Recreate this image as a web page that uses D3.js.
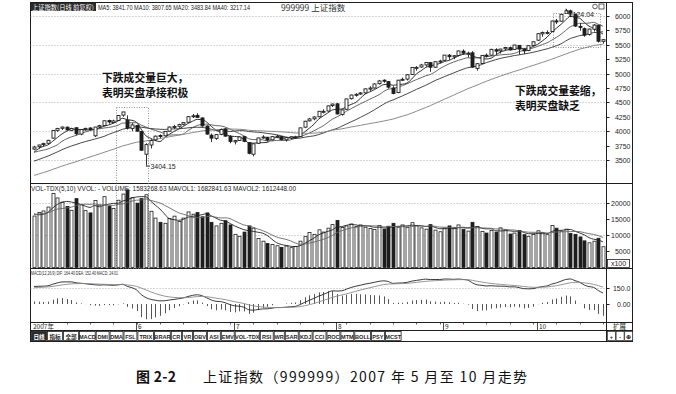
<!DOCTYPE html>
<html><head><meta charset="utf-8">
<script src="https://cdn.jsdelivr.net/npm/d3@7"></script>
<style>body{margin:0;background:#fff}svg{display:block}</style>
</head><body>
<svg id="c" width="676" height="394"></svg>
<script>
// ---------- DATA ----------
const dates = ["04-25","04-26","04-27","04-30",
"05-08","05-09","05-10","05-11","05-14","05-15","05-16","05-17","05-18","05-21","05-22","05-23","05-24","05-25","05-28","05-29","05-30","05-31",
"06-01","06-04","06-05","06-06","06-07","06-08","06-11","06-12","06-13","06-14","06-15","06-18","06-19","06-20","06-21","06-22","06-25","06-26","06-27","06-28","06-29",
"07-02","07-03","07-04","07-05","07-06","07-09","07-10","07-11","07-12","07-13","07-16","07-17","07-18","07-19","07-20","07-23","07-24","07-25","07-26","07-27","07-30","07-31",
"08-01","08-02","08-03","08-06","08-07","08-08","08-09","08-10","08-13","08-14","08-15","08-16","08-17","08-20","08-21","08-22","08-23","08-24","08-27","08-28","08-29","08-30","08-31",
"09-03","09-04","09-05","09-06","09-07","09-10","09-11","09-12","09-13","09-14","09-17","09-18","09-19","09-20","09-21","09-24","09-25","09-26","09-27","09-28",
"10-08","10-09","10-10","10-11","10-12","10-15","10-16","10-17","10-18","10-19","10-22","10-23","10-24","10-25","10-26"];
const opens = [3690,3730,3770,3790,3880,4015,4050,4070,4015,4060,3950,4035,4055,3920,4075,4100,4185,4150,4185,4280,4190,4045,
4100,3995,3600,3760,3850,3925,3920,4000,4075,4085,4120,4155,4255,4275,4230,4090,3930,3875,3945,4040,3910,
3815,3840,3905,3800,3600,3790,3885,3895,3850,3905,3905,3850,3880,3895,3905,4070,4180,4215,4250,4330,4350,4445,
4475,4290,4380,4565,4625,4645,4665,4730,4750,4825,4885,4860,4750,4670,4890,4905,4985,5105,5115,5150,5190,5110,5205,
5230,5320,5290,5315,5390,5340,5360,5090,5175,5320,5320,5415,5395,5430,5450,5420,5490,5420,5400,5490,
5580,5690,5710,5730,5915,5910,6045,6090,6030,5820,5780,5680,5770,5840,5560];
const highs = [3745,3765,3800,3850,4015,4055,4080,4080,4060,4065,4035,4060,4070,4075,4110,4185,4200,4200,4275,4336,4275,4140,
4110,4000,3790,3860,3925,3945,4005,4080,4110,4130,4160,4260,4300,4312,4240,4100,3960,3950,4045,4050,3930,
3850,3910,3920,3805,3785,3890,3930,3900,3915,3935,3915,3895,3910,3920,4060,4180,4230,4260,4350,4380,4445,4480,
4490,4380,4565,4635,4660,4680,4740,4780,4830,4890,4900,4870,4780,4890,4930,4990,5110,5130,5170,5200,5200,5210,5240,
5325,5340,5320,5400,5420,5380,5390,5180,5320,5350,5430,5440,5430,5460,5470,5500,5495,5430,5490,5560,
5700,5730,5750,5920,5950,6040,6124.04,6110,6040,5880,5800,5780,5860,5845,5600];
const lows = [3670,3700,3730,3780,3870,3990,4020,4010,4000,3930,3930,4010,4010,3900,4050,4100,4130,4140,4180,4250,4029,4000,
3990,3660,3404.15,3700,3830,3880,3910,3990,4040,4060,4100,4150,4230,4230,4080,3940,3810,3850,3930,3905,3790,
3770,3830,3810,3600,3563,3780,3870,3820,3840,3890,3840,3820,3860,3870,3900,4060,4170,4190,4240,4310,4340,4420,
4290,4270,4375,4550,4600,4630,4650,4700,4740,4810,4840,4740,4640,4660,4870,4880,4975,5050,5100,5120,5030,5100,5180,
5220,5240,5250,5300,5330,5280,5100,5050,5170,5280,5310,5340,5350,5410,5400,5410,5330,5340,5390,5480,
5570,5640,5680,5720,5860,5900,6040,5980,5810,5745,5640,5660,5730,5540,5520];
const closes = [3725,3760,3785,3841,4013,4049,4072,4022,4046,3955,4031,4049,4030,4072,4097,4181,4160,4178,4272,4334,4053,4109,
4001,3670,3767,3837,3914,3913,3995,4072,4082,4115,4149,4253,4268,4240,4091,3950,3880,3941,4030,3914,3821,
3836,3900,3824,3616,3781,3883,3899,3847,3906,3914,3851,3887,3903,3904,4058,4173,4213,4247,4346,4345,4440,4471,
4300,4370,4560,4628,4640,4664,4735,4749,4820,4872,4869,4765,4656,4886,4901,4980,5107,5108,5150,5194,5111,5206,5218,
5321,5294,5311,5393,5355,5356,5114,5172,5316,5312,5421,5390,5426,5454,5411,5496,5425,5394,5485,5552,
5693,5715,5715,5913,5903,6030,6092,6036,5825,5818,5667,5773,5843,5562,5589];
const volumes = [15833,16900,17400,18600,22800,21400,20100,18800,17600,21200,19300,17500,16800,20600,19200,21800,18900,18200,20700,22600,23900,21500,
19800,21200,22400,17300,15200,13900,13600,15100,15800,14200,15200,17100,16400,16900,15600,16800,13900,12800,13600,14400,13100,
10200,9600,10900,12800,12100,8900,8100,7400,7100,6700,6200,6600,6100,6500,8100,9500,10800,10200,11600,10900,12100,13200,
14500,12300,12800,13400,12600,13100,12400,12000,11700,12900,11800,12700,13600,12400,13100,12300,13800,12900,12200,11800,13200,11500,11000,
12100,12800,12200,13100,11700,11200,13900,12600,11100,10600,11400,10900,12200,11600,10300,10600,11400,10100,9600,10200,
11300,10800,10100,12900,12100,11200,11800,10500,10200,9400,8200,7600,8100,9000,6400];
// closes / volumes before the first visible bar (Jan-Apr 2007, used only to seed the indicators)
const priorCloses = [2715,2641,2707,2807,2826,2770,2668,2794,2821,2778,2779,2833,2937,2975,2975,2857,2882,2945,2930,2786,
2673,2612,2643,2672,2731,2769,2741,2791,2833,2880,2934,2998,3040,2771,
2881,2797,2831,2785,2838,2882,2937,2971,3014,3013,2906,2952,2958,3014,3056,3071,3072,3094,3138,3177,
3198,3197,3183,3252,3291,3319,3323,3323,3444,3445,3492,3558,3613,3639,3659,3690,3449,3584,3718,3700];
const priorVolumes = [14800,15600,16300,17200,15900,18400,16700,15500,16200];
// MACD state shown in the panel header for the first bar
const startDif = 164.40, startDea = 152.40;
const priceTicks = [3500,3750,4000,4250,4500,4750,5000,5250,5500,5750,6000];
const priceGrid = [3500,4000,4500,5000,5500,6000];
const volTicks = [5000,10000,15000,20000];
const macdTicks = [0,150];
const maPeriods = [5,10,20,40];
const headerMain = "MA5: 3841.70  MA10: 3807.65  MA20: 3483.84  MA40: 3217.14";
const headerVol = "VOL-TDX(5,10) VVOL: -  VOLUME: 1583268.63  MAVOL1: 1682841.63  MAVOL2: 1612448.00";
const headerMacd = "MACD(12,26,9) DIF: 164.40  DEA: 152.40  MACD: 24.01";
const tabs = ["日线","指标","全部","MACD","DMI","DMA","FSL","TRIX","BRAR","CR","VR","OBV","ASI","EMV","VOL-TDX","RSI","WR","SAR","KDJ","CCI","ROC","MTM","BOLL","PSY","MCST"];

// ---------- SETUP ----------
const svg = d3.select("#c");
const F = "'Liberation Sans Narrow','Liberation Sans',Arial,sans-serif";
const CJK = "'Noto Sans CJK SC','Noto Sans',sans-serif";
const INK = "#1e1e1e";
const L = 30.5, R = 606.5, RR = 632.5;
const TOP = 2.5, VT = 183.5, MT = 268.5, DT = 322.5, BT = 330.5, BB = 341.5;
const n = closes.length;
const idx = d3.range(n);
const x = d3.scaleLinear().domain([0, n - 1]).range([34, 603]);
const yP = d3.scaleLinear().domain([3500, 6000]).range([160, 16]);
const yV = d3.scaleLinear().domain([0, 20000]).range([267.5, 202.5]);
const yM = d3.scaleLinear().domain([0, 150]).range([304, 288]);

// indicators
const allC = priorCloses.concat(closes);
const P = priorCloses.length;
const mas = maPeriods.map(p => idx.map(i => d3.mean(allC.slice(i + P - p + 1, i + P + 1))));
const allV = priorVolumes.concat(volumes);
const PV = priorVolumes.length;
const mav = [5, 10].map(p => idx.map(i => d3.mean(allV.slice(Math.max(0, i + PV - p + 1), i + PV + 1))));
let e12 = allC[0], e26 = allC[0], dea = 0;
const dif = [], deaA = [], hist = [];
allC.forEach((c, k) => {
  e12 = e12 * 11 / 13 + c * 2 / 13;
  e26 = e26 * 25 / 27 + c * 2 / 27;
  if (k === P) { e26 = e12 - startDif; dea = startDea; }
  const d = e12 - e26;
  if (k !== P) dea = dea * 0.8 + d * 0.2;
  if (k >= P) { dif.push(d); deaA.push(dea); hist.push(2 * (d - dea)); }
});

// clip paths
const defs = svg.append("defs");
[["cm", TOP, VT], ["cv", VT, MT], ["cd", MT, DT]].forEach(([id, a, b]) =>
  defs.append("clipPath").attr("id", id).append("rect").attr("x", L).attr("y", a).attr("width", R - L).attr("height", b - a));

// ---------- FRAME & GRID ----------
const frame = svg.append("g").attr("stroke", INK).attr("fill", "none");
frame.append("rect").attr("x", L).attr("y", TOP).attr("width", RR - L).attr("height", BB - TOP).attr("stroke-width", 1);
[VT, MT, DT, BT].forEach(yy => frame.append("line").attr("x1", L).attr("x2", RR).attr("y1", yy).attr("y2", yy));
frame.append("line").attr("x1", R).attr("x2", R).attr("y1", TOP).attr("y2", BB);

const grid = svg.append("g").attr("stroke", "#9a9a9a").attr("stroke-dasharray", "1,2").attr("stroke-width", 0.8);
priceGrid.forEach(v => grid.append("line").attr("x1", L).attr("x2", R).attr("y1", Math.round(yP(v)) + 0.5).attr("y2", Math.round(yP(v)) + 0.5));
[20000, 10000].forEach(v => grid.append("line").attr("x1", L).attr("x2", R).attr("y1", Math.round(yV(v)) + 0.5).attr("y2", Math.round(yV(v)) + 0.5));
grid.append("line").attr("x1", L).attr("x2", R).attr("y1", Math.round(yM(150)) + 0.5).attr("y2", Math.round(yM(150)) + 0.5);

// right axes
const ax = svg.append("g").attr("font-family", F).attr("font-size", 7).attr("fill", INK);
priceTicks.forEach(v => {
  const yy = Math.round(yP(v)) + 0.5;
  ax.append("line").attr("x1", R).attr("x2", R + 3).attr("y1", yy).attr("y2", yy).attr("stroke", INK);
  ax.append("text").attr("x", RR - 2).attr("y", yy + 2.5).attr("text-anchor", "end").text(v);
});
volTicks.forEach(v => {
  const yy = Math.round(yV(v)) + 0.5;
  ax.append("line").attr("x1", R).attr("x2", R + 3).attr("y1", yy).attr("y2", yy).attr("stroke", INK);
  ax.append("text").attr("x", RR - 2).attr("y", yy + 2.5).attr("text-anchor", "end").text(v);
});
ax.append("rect").attr("x", R + 1).attr("y", 259.5).attr("width", 22).attr("height", 8).attr("fill", "#fff").attr("stroke", INK).attr("stroke-width", 0.8);
ax.append("text").attr("x", R + 12).attr("y", 266).attr("text-anchor", "middle").text("x100");
macdTicks.forEach(v => {
  const yy = Math.round(yM(v)) + 0.5;
  ax.append("line").attr("x1", R).attr("x2", R + 3).attr("y1", yy).attr("y2", yy).attr("stroke", INK);
  ax.append("text").attr("x", RR - 2).attr("y", yy + 2.5).attr("text-anchor", "end").text(v === 0 ? "0.00" : v.toFixed(1));
});

// ---------- MAIN PANEL ----------
const main = svg.append("g").attr("clip-path", "url(#cm)");
const lineStyles = [["#1a1a1a", 0.9], ["#555", 0.9], ["#333", 0.9], ["#8a8a8a", 1]];
mas.forEach((arr, k) => {
  main.append("path").datum(arr).attr("fill", "none").attr("stroke", lineStyles[k][0]).attr("stroke-width", lineStyles[k][1])
    .attr("d", d3.line().x((d, i) => x(i)).y(d => yP(d)).curve(d3.curveMonotoneX));
});
const cg = main.append("g");
cg.selectAll("line.w").data(idx).join("line").attr("class", "w")
  .attr("x1", i => Math.round(x(i)) + 0.5).attr("x2", i => Math.round(x(i)) + 0.5)
  .attr("y1", i => yP(highs[i])).attr("y2", i => yP(lows[i])).attr("stroke", INK).attr("stroke-width", 0.9);
cg.selectAll("rect.b").data(idx).join("rect").attr("class", "b")
  .attr("x", i => Math.round(x(i)) - 1)
  .attr("width", 3)
  .attr("y", i => yP(Math.max(opens[i], closes[i])))
  .attr("height", i => Math.max(1, Math.abs(yP(opens[i]) - yP(closes[i]))))
  .attr("fill", i => closes[i] >= opens[i] ? "#fff" : INK)
  .attr("stroke", INK).attr("stroke-width", 0.9);

// low / high markers
const lowI = lows.indexOf(d3.min(lows));
const highI = highs.indexOf(d3.max(highs));
svg.append("line").attr("x1", x(lowI)).attr("x2", x(lowI) + 4).attr("y1", yP(lows[lowI]) + 0.5).attr("y2", yP(lows[lowI]) + 0.5).attr("stroke", INK);
svg.append("text").attr("x", x(lowI) + 4.5).attr("y", yP(lows[lowI]) + 3).attr("font-family", F).attr("font-size", 7).attr("fill", INK).text(d3.format(".2f")(lows[lowI]));
svg.append("line").attr("x1", x(highI)).attr("x2", x(highI) + 3).attr("y1", yP(highs[highI])).attr("y2", yP(highs[highI]) + 5).attr("stroke", INK).attr("stroke-width", 0.8);
svg.append("text").attr("x", x(highI) + 3).attr("y", yP(highs[highI]) + 8).attr("font-family", F).attr("font-size", 7).attr("fill", INK).text(d3.format(".2f")(highs[highI]));

// highlighted region boxes (dotted)
const hb = svg.append("g").attr("fill", "none").attr("stroke", "#777").attr("stroke-dasharray", "1,1.5").attr("stroke-width", 0.8);
hb.append("rect").attr("x", Math.round(x(18)) - 1.5).attr("y", Math.round(yP(highs[19])) - 4.5)
  .attr("width", Math.round(x(24)) - Math.round(x(18)) + 4).attr("height", MT - (Math.round(yP(highs[19])) - 4.5));
hb.append("rect").attr("x", Math.round(x(112)) - 2.5).attr("y", 13.5).attr("width", Math.round(x(121)) - Math.round(x(112)) + 5).attr("height", 34);

// header main
svg.append("rect").attr("x", 31).attr("y", 3).attr("width", 65).attr("height", 8).attr("fill", "#2a2a2a");
svg.append("text").attr("x", 32).attr("y", 9.5).attr("font-family", CJK).attr("font-size", 6.5).attr("fill", "#fff")
  .attr("textLength", 62).attr("lengthAdjust", "spacingAndGlyphs").text("上证指数(日线 前复权)");
svg.append("text").attr("x", 98).attr("y", 9.5).attr("font-family", F).attr("font-size", 6.5).attr("fill", INK)
  .attr("textLength", 152).attr("lengthAdjust", "spacingAndGlyphs").text(headerMain);
svg.append("text").attr("x", 281).attr("y", 10.5).attr("font-family", CJK).attr("font-size", 8.5).attr("fill", "#333").text("999999 上证指数");
svg.append("circle").attr("cx", 595).attr("cy", 6.5).attr("r", 2.3).attr("fill", "none").attr("stroke", INK).attr("stroke-width", 0.7);
svg.append("rect").attr("x", 599).attr("y", 4).attr("width", 5).attr("height", 5).attr("fill", "none").attr("stroke", INK).attr("stroke-width", 0.7);

// annotations
const ann = svg.append("g").attr("font-family", CJK).attr("font-weight", "bold").attr("font-size", 10.8).attr("fill", "#111");
ann.append("text").attr("x", 102).attr("y", 81.5).text("下跌成交量巨大，");
ann.append("text").attr("x", 102).attr("y", 97).text("表明买盘承接积极");
ann.append("text").attr("x", 515).attr("y", 94.5).text("下跌成交量萎缩，");
ann.append("text").attr("x", 515).attr("y", 109.5).text("表明买盘缺乏");

// ---------- VOLUME PANEL ----------
const vol = svg.append("g").attr("clip-path", "url(#cv)");
vol.selectAll("rect").data(idx).join("rect")
  .attr("x", i => Math.round(x(i)) - 1)
  .attr("width", 3)
  .attr("y", i => yV(volumes[i]))
  .attr("height", i => yV(0) - yV(volumes[i]))
  .attr("fill", i => closes[i] >= opens[i] ? "#fff" : INK)
  .attr("stroke", INK).attr("stroke-width", 0.8);
mav.forEach((arr, k) => {
  vol.append("path").datum(arr).attr("fill", "none").attr("stroke", k ? "#666" : "#222").attr("stroke-width", 0.9)
    .attr("d", d3.line().x((d, i) => x(i)).y(d => yV(d)).curve(d3.curveMonotoneX));
});
svg.append("text").attr("x", 31).attr("y", 191).attr("font-family", F).attr("font-size", 6.5).attr("fill", INK)
  .attr("textLength", 265).attr("lengthAdjust", "spacingAndGlyphs").text(headerVol);

// ---------- MACD PANEL ----------
const mg = svg.append("g").attr("clip-path", "url(#cd)");
mg.selectAll("line").data(idx).join("line")
  .attr("x1", i => Math.round(x(i)) + 0.5).attr("x2", i => Math.round(x(i)) + 0.5)
  .attr("y1", yM(0)).attr("y2", i => yM(hist[i]))
  .attr("stroke", "#444").attr("stroke-width", 0.9);
[[dif, "#222"], [deaA, "#8a8a8a"]].forEach(([arr, c]) => {
  mg.append("path").datum(arr).attr("fill", "none").attr("stroke", c).attr("stroke-width", 0.9)
    .attr("d", d3.line().x((d, i) => x(i)).y(d => yM(d)).curve(d3.curveMonotoneX));
});
svg.append("text").attr("x", 31).attr("y", 275).attr("font-family", F).attr("font-size", 6).attr("fill", INK)
  .attr("textLength", 87).attr("lengthAdjust", "spacingAndGlyphs").text(headerMacd);

// ---------- DATE ROW ----------
const dr = svg.append("g").attr("font-family", CJK).attr("font-size", 6.5).attr("fill", INK);
idx.filter(i => i % 5 === 2).forEach(i => dr.append("line").attr("x1", Math.round(x(i)) + 0.5).attr("x2", Math.round(x(i)) + 0.5).attr("y1", DT).attr("y2", DT + 2).attr("stroke", INK).attr("stroke-width", 0.7));
const monthStarts = idx.filter(i => i > 0 && dates[i].slice(0, 2) !== dates[i - 1].slice(0, 2) && dates[i].slice(0, 2) !== "05");
dr.append("text").attr("x", 33).attr("y", 329).text("2007年");
monthStarts.forEach(i => {
  const m = +dates[i].slice(0, 2);
  const xx = Math.round(x(i)) - 1;
  dr.append("line").attr("x1", xx + 0.5).attr("x2", xx + 0.5).attr("y1", DT).attr("y2", BT).attr("stroke", INK).attr("stroke-width", 0.8);
  dr.append("text").attr("x", xx + 2).attr("y", 329).text(m);
});
svg.append("text").attr("x", R + 13).attr("y", 329).attr("text-anchor", "middle").attr("font-family", CJK).attr("font-size", 6.5).attr("fill", INK).text("扩展");

// ---------- TABS ----------
const tg = svg.append("g").attr("font-family", F).attr("font-size", 5.6).attr("font-weight", "bold");
let tx = 31;
tabs.forEach((t, k) => {
  const cjk = /[\u4e00-\u9fff]/.test(t);
  const w = cjk ? 15 : 4.5 + t.length * 2.8;
  tg.append("rect").attr("x", tx + 0.5).attr("y", BT + 1).attr("width", w).attr("height", 9)
    .attr("fill", k === 0 ? "#2a2a2a" : "#fff").attr("stroke", INK).attr("stroke-width", 0.8);
  tg.append("text").attr("x", tx + 0.5 + w / 2).attr("y", BT + 8).attr("text-anchor", "middle")
    .attr("font-family", cjk ? CJK : F).attr("fill", k === 0 ? "#fff" : INK).text(t);
  tx += w + 1;
});
["+", "-", "⊕"].forEach((t, k) => {
  const bx = R + 1 + k * 8.6;
  tg.append("rect").attr("x", bx).attr("y", BT + 1).attr("width", 8).attr("height", 9).attr("fill", "#fff").attr("stroke", INK).attr("stroke-width", 0.7);
  tg.append("text").attr("x", bx + 4).attr("y", BT + 8).attr("text-anchor", "middle").attr("fill", INK).text(t);
});

// ---------- CAPTION ----------
const cap = svg.append("g").attr("font-family", CJK).attr("font-size", 14).attr("fill", "#111");
cap.append("text").attr("x", 136).attr("y", 382).attr("font-weight", "bold")
  .attr("textLength", 40).attr("lengthAdjust", "spacing").text("图 2-2");
cap.append("text").attr("x", 203).attr("y", 382)
  .attr("textLength", 324).attr("lengthAdjust", "spacing").text("上证指数（999999）2007 年 5 月至 10 月走势");
</script>
</body></html>
